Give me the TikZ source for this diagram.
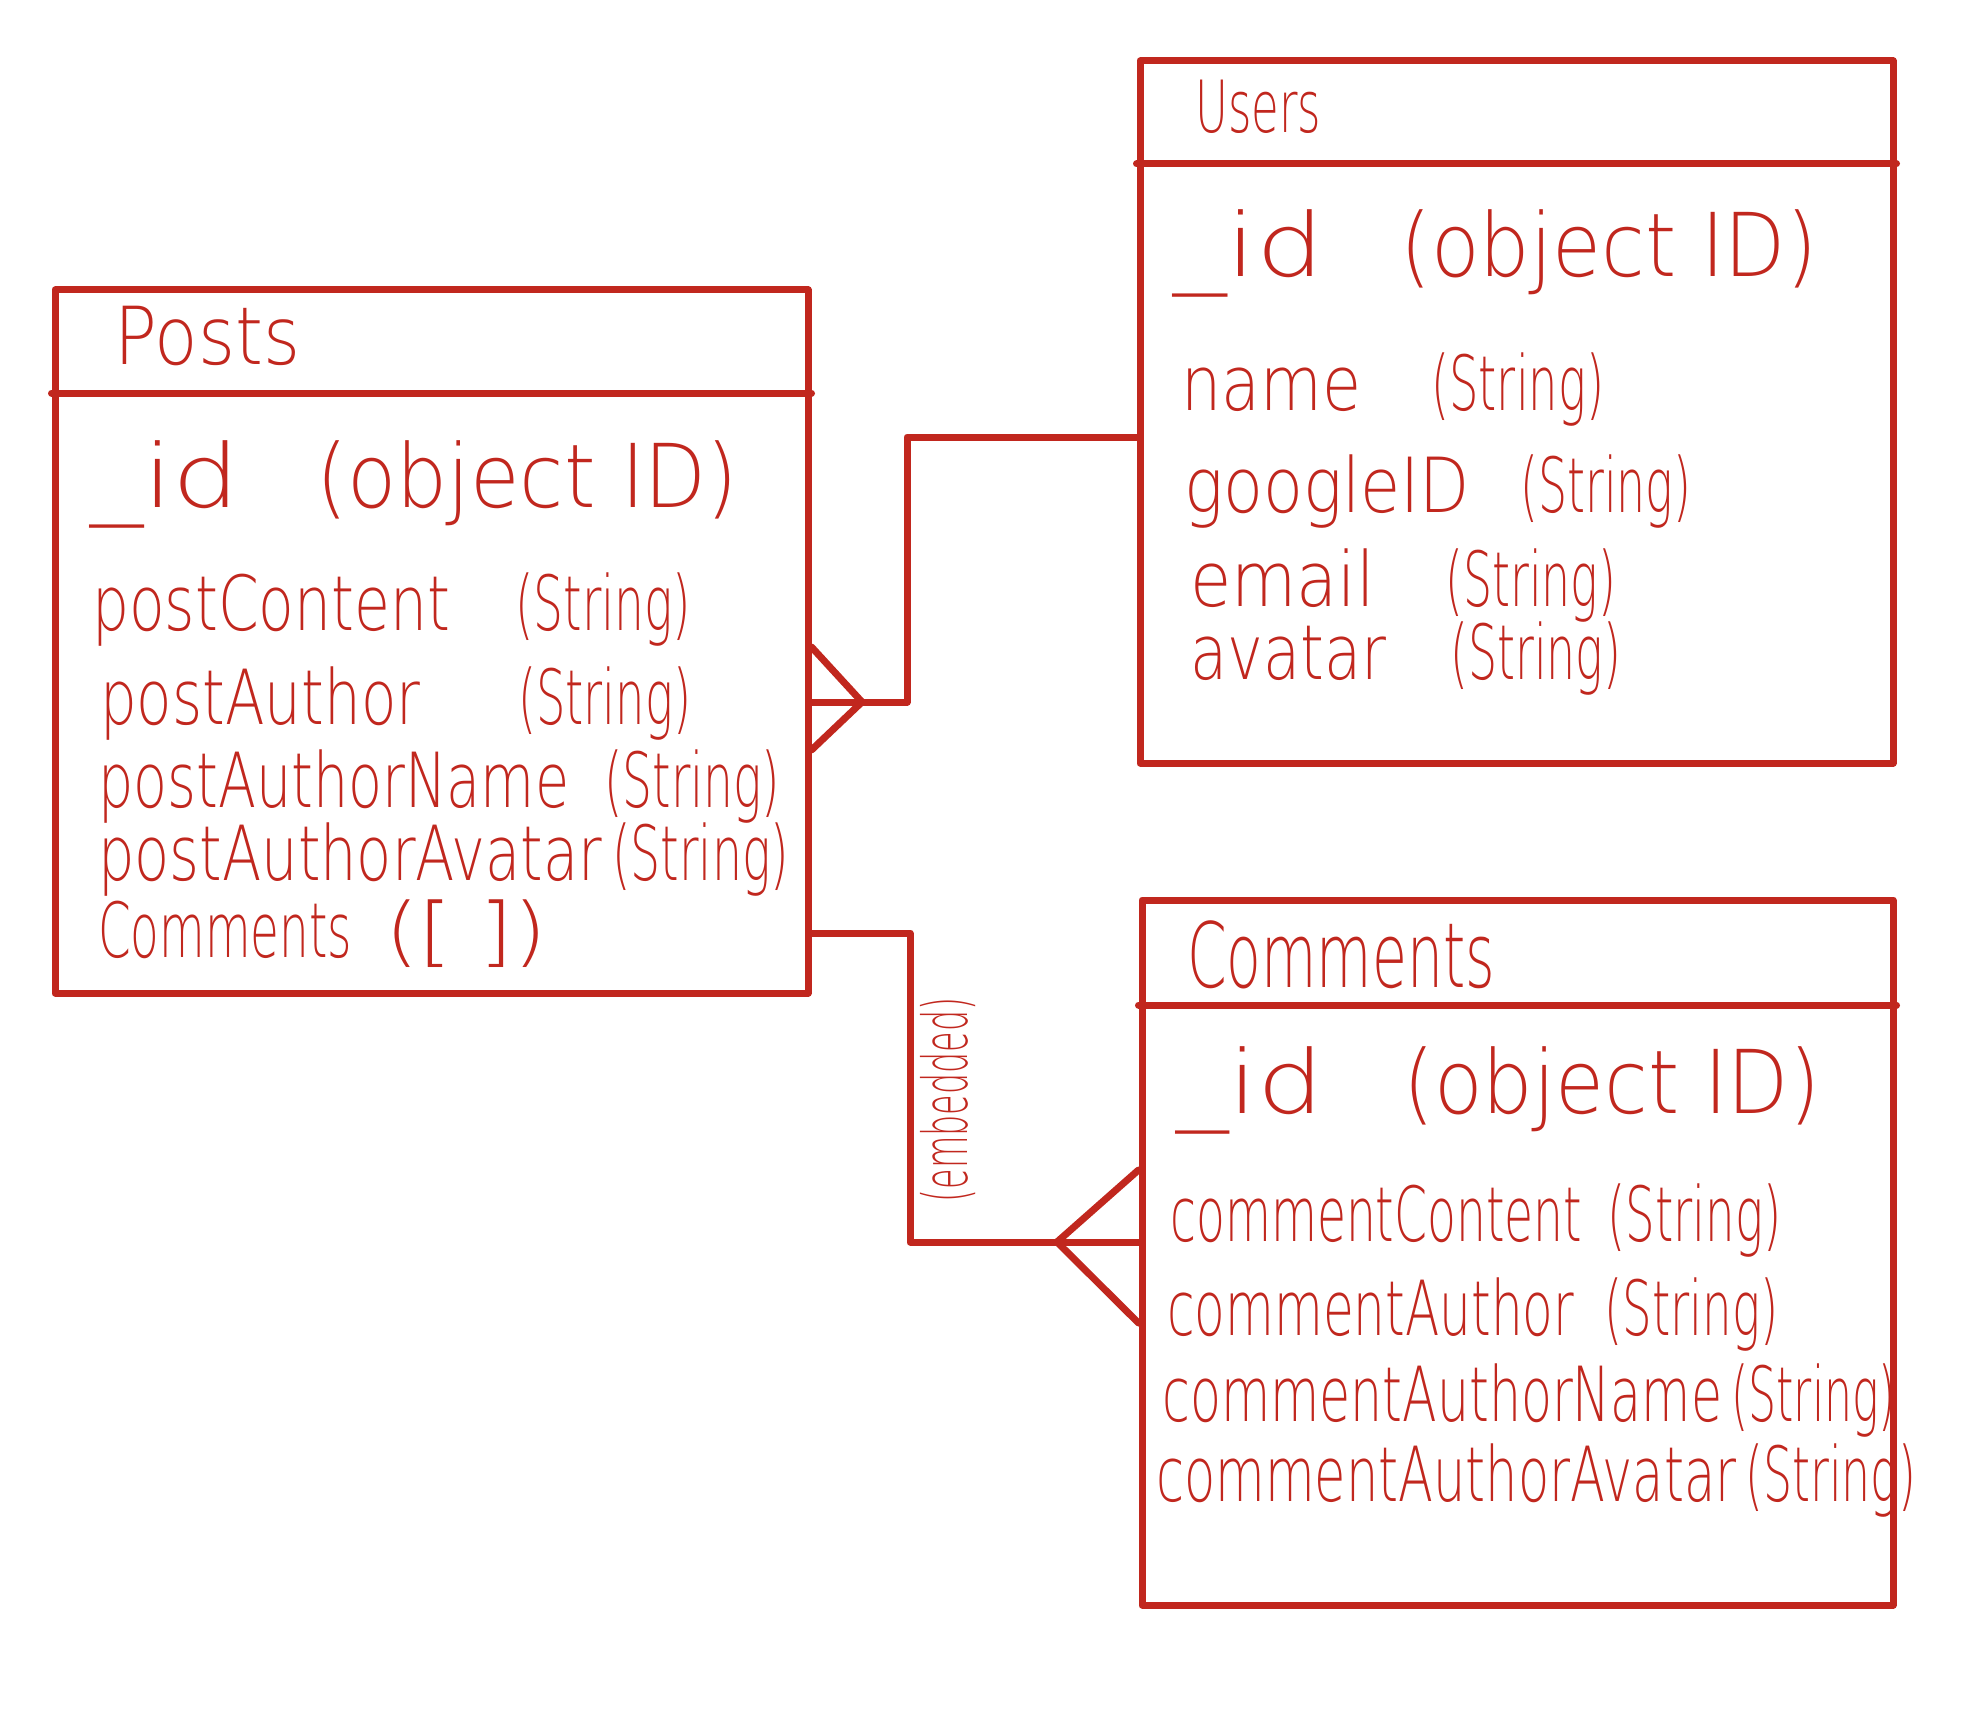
\documentclass[tikz,border=0pt]{standalone}
\usepackage{fontspec}
\IfFontExistsTF{NotoSans-Light.ttf}{\setmainfont{NotoSans-Light.ttf}}{%
  \IfFontExistsTF{DejaVuSans-ExtraLight.ttf}{\setmainfont{DejaVuSans-ExtraLight.ttf}}{%
    \setmainfont{Liberation Sans}}}
\usepackage{graphicx}
\definecolor{ink}{RGB}{193,39,30}
\newcommand{\hw}[2]{\resizebox{#1pt}{\height}{#2}}
\begin{document}
\begin{tikzpicture}[x=1pt,y=-1pt,
  entity/.style={draw=ink, line width=7pt, line join=round, rectangle, inner sep=0pt},
  link/.style={draw=ink, line width=7pt, line join=round, line cap=round},
  txt/.style={anchor=base west, inner sep=0pt, text=ink},
  row/.style={txt, font=\fontsize{76}{80}\selectfont},
  idrow/.style={txt, font=\fontsize{88}{90}\selectfont},
  head/.style={txt, font=\fontsize{#1}{#1}\selectfont},
  head/.default=80
]
\useasboundingbox[fill=white] (0,0) rectangle (1979,1736);

% ---------- entities ----------
\node[entity, minimum width=753pt, minimum height=703pt] (posts) at (431.5,641.5) {};
\node[entity, minimum width=753pt, minimum height=702pt] (users) at (1516.5,412) {};
\node[entity, minimum width=751pt, minimum height=705pt] (comments) at (1517.5,1252.5) {};

\draw[link] (posts.west |- 0,393) -- (posts.east |- 0,393);
\draw[link] (users.west |- 0,164) -- (users.east |- 0,164);
\draw[link] (comments.west |- 0,1005) -- (comments.east |- 0,1005);

% ---------- Posts ----------
\node[head=80] (pT) at (114,365) {\hw{186}{Posts}};
\node[idrow] (pId) at (90,507) {\hw{150}{\_id}};
\node[idrow] (pIdT) at (316,507) {\hw{422}{(object ID)}};
\node[row] (p1) at (92,630) {\hw{358}{postContent}};
\node[row] (p1t) at (515,630) {\hw{176}{(String)}};
\node[row] (p2) at (100,724) {\hw{320}{postAuthor}};
\node[row] (p2t) at (518,724) {\hw{173}{(String)}};
\node[row] (p3) at (98,807) {\hw{471}{postAuthorName}};
\node[row] (p3t) at (604,807) {\hw{176}{(String)}};
\node[row] (p4) at (98,880) {\hw{504}{postAuthorAvatar}};
\node[row] (p4t) at (612,880) {\hw{177}{(String)}};
\node[row] (p5) at (98,957) {\hw{254}{Comments}};
\node[row] (p5t) at (385,957) {\hw{162}{([ ])}};

% ---------- Users ----------
\node[head=72] (uT) at (1195,133) {\hw{126}{Users}};
\node[idrow] (uId) at (1173,277) {\hw{151}{\_id}};
\node[idrow] (uIdT) at (1400,277) {\hw{417}{(object ID)}};
\node[row] (u1) at (1181,410) {\hw{180}{name}};
\node[row] (u1t) at (1431,410) {\hw{173}{(String)}};
\node[row] (u2) at (1184,512) {\hw{286}{googleID}};
\node[row] (u2t) at (1520,512) {\hw{171}{(String)}};
\node[row] (u3) at (1190,606) {\hw{185}{email}};
\node[row] (u3t) at (1445,606) {\hw{171}{(String)}};
\node[row] (u4) at (1190,679) {\hw{196}{avatar}};
\node[row] (u4t) at (1450,679) {\hw{171}{(String)}};

% ---------- Comments ----------
\node[head=90] (cT) at (1187,987) {\hw{308}{Comments}};
\node[idrow] (cId) at (1176,1113) {\hw{148}{\_id}};
\node[idrow] (cIdT) at (1403,1113) {\hw{417}{(object ID)}};
\node[row] (c1) at (1170,1241) {\hw{412}{commentContent}};
\node[row] (c1t) at (1607,1241) {\hw{174}{(String)}};
\node[row] (c2) at (1167,1335) {\hw{407}{commentAuthor}};
\node[row] (c2t) at (1604,1335) {\hw{174}{(String)}};
\node[row] (c3) at (1162,1421) {\hw{560}{commentAuthorName}};
\node[row] (c3t) at (1731,1421) {\hw{165}{(String)}};
\node[row] (c4) at (1156,1501) {\hw{580}{commentAuthorAvatar}};
\node[row] (c4t) at (1745,1501) {\hw{171}{(String)}};

% ---------- Posts -- Users ----------
\coordinate (a1) at (907,702);
\coordinate (a2) at (907,437);
\coordinate (aF) at (862,702);
\draw[link] (posts.east |- a1) -- (a1) -- (a2) -- (users.west |- a2);
\draw[link] (posts.east |- 0,647) -- (aF) -- (posts.east |- 0,750);

% ---------- Posts -- Comments ----------
\coordinate (b1) at (910,933);
\coordinate (b2) at (910,1242);
\coordinate (bF) at (1057,1242);
\draw[link] (posts.east |- b1) -- (b1) -- (b2) -- (comments.west |- b2);
\draw[link] (comments.west |- 0,1170) -- (bF) -- (comments.west |- 0,1323);

\node[text=ink, inner sep=0pt, rotate=90, font=\fontsize{62}{62}\selectfont] (emb) at (948,1100) {\hw{205}{(embedded)}};
\end{tikzpicture}
\end{document}
